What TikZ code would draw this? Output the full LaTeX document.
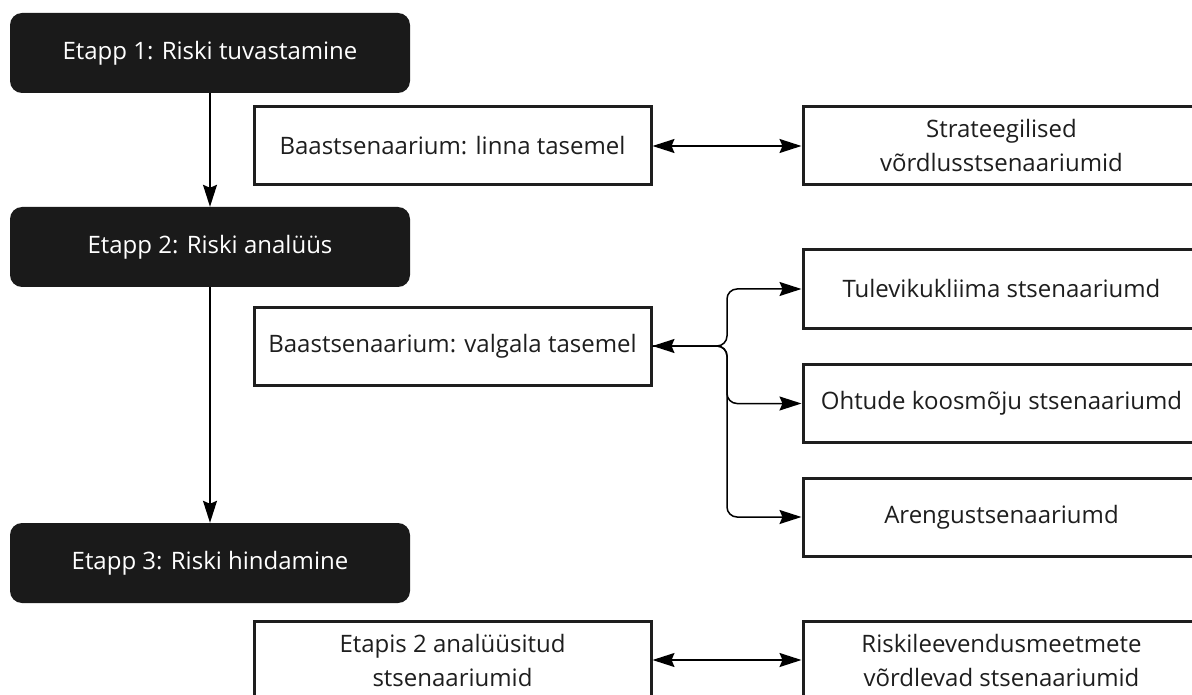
\documentclass[tikz,border=0pt]{standalone}
\usepackage{fontspec}
\setmainfont{Open Sans}
\usetikzlibrary{arrows.meta}
\definecolor{boxdark}{HTML}{1A1A1A}
\definecolor{ink}{HTML}{1E1E1E}
\tikzset{mytip/.tip={Stealth[length=22pt,width=14pt,inset=3pt]}}
\begin{document}
\begin{tikzpicture}[x=1pt,y=-1pt,
  stage/.style={fill=boxdark,draw=none,rounded corners=12pt,minimum width=400pt,minimum height=80pt,text=white,font=\fontsize{24}{30}\selectfont,inner sep=0pt},
  scen/.style={draw=ink,line width=3pt,fill=white,minimum width=397pt,minimum height=78pt,text=ink,font=\fontsize{24}{34}\selectfont,align=center,inner sep=0pt},
  conn/.style={draw=black,line width=1.5pt}
]
\useasboundingbox (0,0) rectangle (1192,695);
\clip (0,0) rectangle (1192,695);
\fill[white] (0,0) rectangle (1192,695);
\node[stage] (e1) at (210,53) {Etapp 1: Riski tuvastamine};
\node[stage] (e2) at (210,247) {Etapp 2: Riski analüüs};
\node[stage] (e3) at (210,563) {Etapp 3: Riski hindamine};

\node[scen] (linn) at (452.5,146) {Baastsenaarium: linna tasemel};
\node[scen] (strat) at (1001.5,146) {Strateegilised\\võrdlusstsenaariumid};
\node[scen] (tul) at (1001.5,289) {Tulevikukliima stsenaariumd};
\node[scen] (valg) at (452.5,346) {Baastsenaarium: valgala tasemel};
\node[scen] (oht) at (1001.5,403.5) {Ohtude koosmõju stsenaariumd};
\node[scen] (are) at (1001.5,517) {Arengustsenaariumd};
\node[scen] (etp) at (452.5,660) {Etapis 2 analüüsitud\\stsenaariumid};
\node[scen] (risk) at (1001.5,660) {Riskileevendusmeetmete\\võrdlevad stsenaariumid};

\draw[conn,-{mytip}] (e1) -- (e2);
\draw[conn,-{mytip}] (e2) -- (e3);
\draw[conn,{mytip}-{mytip}] (linn) -- (strat);
\draw[conn,{mytip}-{mytip}] (etp) -- (risk);
\coordinate (J) at (727,346);
\draw[conn,{mytip}-{mytip},rounded corners=10pt] (valg.east) -- (J) |- (tul.west);
\draw[conn,-{mytip},rounded corners=10pt] (valg.east) -- (J) |- (oht.west);
\draw[conn,-{mytip},rounded corners=10pt] (valg.east) -- (J) |- (are.west);
\end{tikzpicture}
\end{document}
